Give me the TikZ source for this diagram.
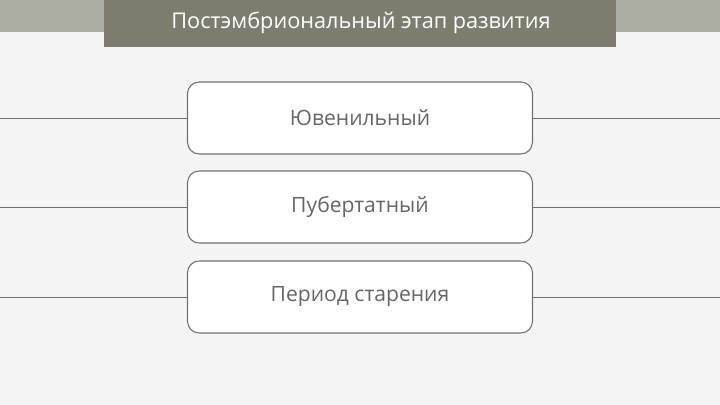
\documentclass[tikz,border=0pt]{standalone}
\usepackage{fontspec}
\setmainfont{Open Sans}
\definecolor{bgpage}{HTML}{F4F4F4}
\definecolor{stripe}{HTML}{ADAEA2}
\definecolor{titlebar}{HTML}{7C7D6F}
\definecolor{edge}{HTML}{707070}
\definecolor{label}{HTML}{666666}
\tikzset{
  stage/.style={draw=edge, line width=0.9pt, rounded corners=10pt, fill=white,
    minimum width=345*0.03cm, minimum height=72*0.03cm, text=label,
    font=\fontsize{18}{21}\selectfont},
  link/.style={draw=edge, line width=0.7pt}
}
\begin{document}
\begin{tikzpicture}[x=0.03cm, y=-0.03cm]
                \fill[bgpage] (0,0) rectangle (720,405);
                \useasboundingbox (0,0) rectangle (720,405);
                \fill[stripe] (0,0) rectangle (720,32);
                \fill[titlebar] (104,0) rectangle (616,47);
                \node[text=white, font=\fontsize{18.5}{21}\selectfont] (title) at (361,23) {Постэмбриональный этап развития};
                \node[stage] (juv) at (360,118) {Ювенильный};
                \node[stage] (pub) at (360,207) {Пубертатный};
                \node[stage] (old) at (360,297) {Период старения};
                \coordinate (juvL) at (0,118);
                \coordinate (juvR) at (720,118);
                \coordinate (pubL) at (0,207);
                \coordinate (pubR) at (720,207);
                \coordinate (oldL) at (0,297);
                \coordinate (oldR) at (720,297);
                \draw[link] (juvL) -- (juv.west);
                \draw[link] (juv.east) -- (juvR);
                \draw[link] (pubL) -- (pub.west);
                \draw[link] (pub.east) -- (pubR);
                \draw[link] (oldL) -- (old.west);
                \draw[link] (old.east) -- (oldR);
            \end{tikzpicture}
\end{document}
